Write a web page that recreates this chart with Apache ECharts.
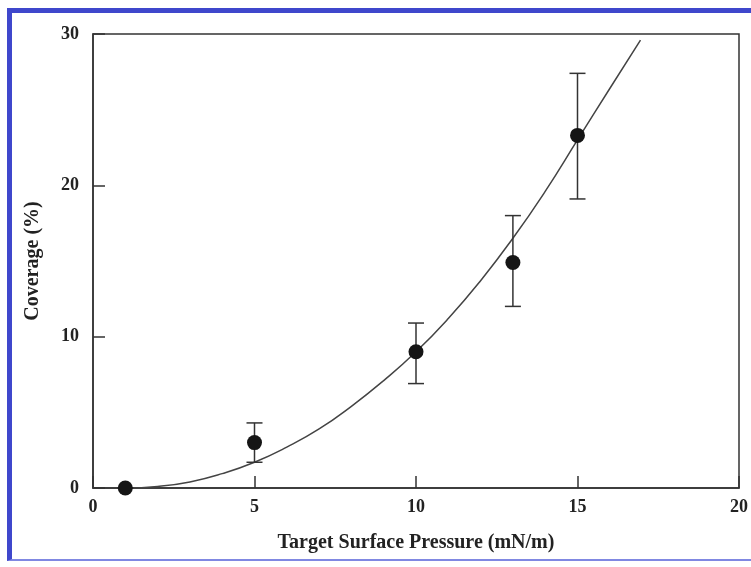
<!DOCTYPE html>
<html>
<head>
<meta charset="utf-8">
<script src="https://cdn.jsdelivr.net/npm/echarts@6/dist/echarts.min.js"></script>
<style>
  html, body { margin: 0; padding: 0; background: #fff; }
  #frame {
    position: absolute; left: 7px; top: 8px; width: 760px; height: 553px;
    border-top: 5px solid #3f47cc; border-left: 5px solid #3f47cc;
    border-bottom: 2px solid #8088e2; box-sizing: border-box;
  }
  #main { position: absolute; left: 0; top: 0; width: 751px; height: 567px; }
</style>
</head>
<body>
<div id="frame"></div>
<div id="main"></div>
<script>
// measured points
var pressure = [1, 5, 10, 13, 15];
var coverage = [0, 3.0, 9.0, 14.9, 23.3];
var errLow  = [0, 1.7, 6.9, 12.0, 19.1];
var errHigh = [0, 4.3, 10.9, 18.0, 27.4];

// fitted curve
var fitX = [1, 2, 3, 4, 5, 6, 7, 8, 9, 10, 11, 12, 13, 14, 15, 16, 16.95];
var fitY = [0, 0.1, 0.4, 0.95, 1.7, 2.7, 3.9, 5.4, 7.1, 9.0, 11.2, 13.7, 16.5, 19.6, 23.0, 26.4, 29.6];

var font = '"Liberation Serif", "DejaVu Serif", serif';

var pts = pressure.map(function (x, i) { return [x, coverage[i]]; });
var errs = pressure.map(function (x, i) { return [x, errLow[i], errHigh[i]]; });
var fit = fitX.map(function (x, i) { return [x, fitY[i]]; });

var chart = echarts.init(document.getElementById('main'));

chart.setOption({
  backgroundColor: 'transparent',
  animation: false,
  grid: {
    left: 93, right: 7, top: 34, bottom: 79,
    show: true, borderColor: '#333', borderWidth: 1.5, backgroundColor: 'transparent'
  },
  xAxis: {
    type: 'value', min: 0, max: 20, interval: 5,
    name: 'Target Surface Pressure (mN/m)',
    nameLocation: 'middle', nameGap: 45,
    nameTextStyle: { fontFamily: font, fontWeight: 'bold', fontSize: 20, color: '#222' },
    axisLine: { lineStyle: { color: '#333', width: 1.5 } },
    axisTick: { inside: true, length: 12, lineStyle: { color: '#333', width: 1.5 } },
    axisLabel: { fontFamily: font, fontWeight: 'bold', fontSize: 18, color: '#222', margin: 10 },
    splitLine: { show: false }
  },
  yAxis: {
    type: 'value', min: 0, max: 30, interval: 10,
    name: 'Coverage (%)',
    nameLocation: 'middle', nameGap: 50,
    nameTextStyle: { fontFamily: font, fontWeight: 'bold', fontSize: 20, color: '#222' },
    axisLine: { lineStyle: { color: '#333', width: 1.5 } },
    axisTick: { inside: true, length: 12, lineStyle: { color: '#333', width: 1.5 } },
    axisLabel: { fontFamily: font, fontWeight: 'bold', fontSize: 18, color: '#222', margin: 14 },
    splitLine: { show: false }
  },
  series: [
    {
      type: 'line',
      data: fit,
      smooth: true,
      showSymbol: false,
      lineStyle: { color: '#444', width: 1.5 },
      z: 2
    },
    {
      type: 'custom',
      data: errs,
      renderItem: function (params, api) {
        var x = api.value(0);
        var lo = api.coord([x, api.value(1)]);
        var hi = api.coord([x, api.value(2)]);
        var cap = 8;
        var st = { stroke: '#333', lineWidth: 1.5 };
        return {
          type: 'group',
          children: [
            { type: 'line', shape: { x1: lo[0], y1: lo[1], x2: hi[0], y2: hi[1] }, style: st },
            { type: 'line', shape: { x1: hi[0] - cap, y1: hi[1], x2: hi[0] + cap, y2: hi[1] }, style: st },
            { type: 'line', shape: { x1: lo[0] - cap, y1: lo[1], x2: lo[0] + cap, y2: lo[1] }, style: st }
          ]
        };
      },
      z: 3
    },
    {
      type: 'scatter',
      data: pts,
      symbol: 'circle',
      symbolSize: 15,
      itemStyle: { color: '#151515', opacity: 1 },
      z: 4
    }
  ]
});
</script>
</body>
</html>
